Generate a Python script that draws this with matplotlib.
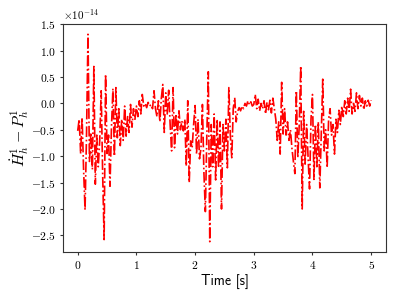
import numpy as np
import matplotlib
matplotlib.use("Agg")
import matplotlib.pyplot as plt

# ----------------------------
# Datos (valores en unidades de 1e-14)
# ----------------------------
DT = 0.025
SCALE = 1e-14

residual = [
    # 0.0 - 0.475
    -0.52, -0.30, -0.95, -0.27, -1.25, -2.02, -0.60, 1.31, -1.10, -0.55,
    -1.25, 0.70, -1.53, -0.60, -1.20, -0.70, 0.24, -1.34, -2.58, 0.55,
    # 0.5 - 0.975
    -0.95, -0.60, -1.57, -0.45, 0.28, -1.00, 0.30, -0.65, -0.10, -0.80,
    -0.30, -0.70, -0.05, -0.62, -0.25, -0.55, -0.02, -0.45, -0.10, -0.30,
    # 1.0 - 1.475
    -0.05, -0.25, 0.05, -0.20, 0.17, -0.05, 0.00, -0.08, 0.02, -0.05,
    -0.02, -0.10, 0.24, -0.10, -0.25, 0.05, -0.35, 0.10, 0.36, -0.55,
    # 1.5 - 1.975
    0.20, -0.20, 0.25, -0.40, -0.90, 0.30, -0.84, -0.20, -0.58, -0.14,
    -0.50, -0.33, -0.52, -0.30, -1.19, 0.05, -1.50, -0.71, -0.84, -0.40,
    # 2.0 - 2.475
    -0.04, -0.96, -0.30, -1.05, -0.85, -0.02, -1.30, -2.05, -0.60, 0.60,
    -2.62, -0.40, -1.20, -0.20, -1.45, -0.30, -1.22, -0.35, -2.00, -0.40,
    # 2.5 - 2.975
    -0.90, -0.30, -1.22, 0.30, -0.60, -1.03, -0.10, 0.11, -0.35, -0.15,
    -0.08, -0.14, -0.05, -0.10, 0.00, -0.05, 0.05, -0.02, 0.03, -0.05,
    # 3.0 - 3.475
    -0.02, 0.17, -0.10, 0.08, -0.14, 0.00, -0.10, 0.05, -0.20, 0.02,
    -0.12, 0.06, -0.18, 0.10, -0.10, -0.30, -0.70, -0.35, -0.96, 0.40,
    # 3.5 - 3.975
    -0.58, -0.10, -0.60, -0.35, -0.70, -0.50, -0.85, -1.10, -1.33, 0.24,
    -1.03, -0.40, 0.71, -2.00, -0.15, -1.15, -0.40, -1.00, -1.62, -0.30,
    # 4.0 - 4.475
    0.17, -1.44, -0.40, -1.20, -0.35, -1.60, -0.60, 0.46, -0.90, -0.50,
    -1.22, -0.30, -0.10, -0.60, -0.40, -0.96, -0.30, -0.55, -0.13, -0.40,
    # 4.5 - 5.0
    -0.05, -0.25, 0.05, -0.20, 0.10, -0.15, 0.27, -0.20, 0.00, -0.15,
    0.20, -0.10, 0.15, -0.05, 0.10, -0.12, 0.05, -0.05, 0.06, -0.05,
    0.06,
]

# ----------------------------
# Estilo
# ----------------------------
plt.rcParams["font.family"] = "serif"
plt.rcParams["font.serif"] = ["cmr10"]
plt.rcParams["mathtext.fontset"] = "cm"
plt.rcParams["axes.formatter.use_mathtext"] = True
plt.rcParams["axes.unicode_minus"] = True
plt.rcParams["axes.edgecolor"] = "#333333"

time = np.arange(len(residual)) * DT
values = np.array(residual) * SCALE

fig = plt.figure(figsize=(3.99, 2.99), dpi=100)
ax = fig.add_axes([0.158, 0.157, 0.809, 0.763])

ax.plot(time, values, color="red", linestyle="-.", linewidth=1.2)

ax.set_xlabel("Time [s]", fontsize=10, family="cmss10", labelpad=2)
ax.set_ylabel(r"$\dot{H}_h^1 - P_h^1$", fontsize=11.5, labelpad=0)
ax.tick_params(labelsize=8.3, length=2.5, pad=2.5, color="#333333")
ax.yaxis.get_offset_text().set_fontsize(8)

fig.savefig("out.png", dpi=100)
